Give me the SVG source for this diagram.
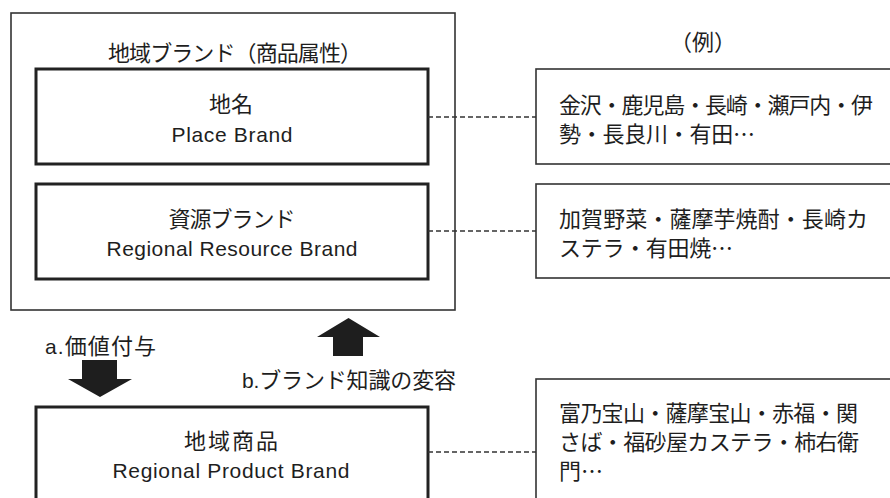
<svg xmlns="http://www.w3.org/2000/svg" width="890" height="498" viewBox="0 0 890 498">
<style>
text{font-family:"Liberation Sans","Noto Sans CJK JP",sans-serif;font-size:21px;fill:#1e1e1e}
.j{font-family:"Noto Sans CJK JP","Liberation Sans",sans-serif;font-size:22px}
.outer{fill:none;stroke:#333;stroke-width:1.6}
.inner{fill:#fff;stroke:#222;stroke-width:3}
.ex{fill:#fff;stroke:#333;stroke-width:1.6}
.dash{fill:none;stroke:#333;stroke-width:1.3;stroke-dasharray:5 3}
.arrow{fill:#1e1e1e}
.c{text-anchor:middle}
</style>
<rect width="890" height="498" fill="#fff"/>
<g id="region-brand">
<rect class="outer" x="11" y="13" width="444" height="297"/>
<text class="j" x="108" y="61" textLength="254">地域ブランド（商品属性）</text>
</g>
<g id="place-brand">
<rect class="inner" x="36" y="69" width="392" height="95"/>
<text class="j c" x="231" y="112">地名</text>
<text class="c" x="232" y="142" textLength="121">Place Brand</text>
</g>
<g id="resource-brand">
<rect class="inner" x="36" y="184" width="392" height="95"/>
<text class="j c" x="232" y="227" textLength="127">資源ブランド</text>
<text class="c" x="232" y="256" textLength="251">Regional Resource Brand</text>
</g>
<g id="product-brand">
<rect class="inner" x="36" y="407" width="392" height="110"/>
<text class="j c" x="231" y="449" textLength="94">地域商品</text>
<text class="c" x="231" y="478" textLength="237">Regional Product Brand</text>
</g>
<g id="example-title">
<text class="j c" x="703" y="50">（例）</text>
</g>
<g id="example-place">
<rect class="ex" x="536" y="69" width="370" height="95"/>
<text class="j" x="559" y="113" textLength="314">金沢・鹿児島・長崎・瀬戸内・伊</text>
<text class="j" x="559" y="142" textLength="196">勢・長良川・有田…</text>
</g>
<g id="example-resource">
<rect class="ex" x="536" y="184" width="370" height="94"/>
<text class="j" x="559" y="227" textLength="309">加賀野菜・薩摩芋焼酎・長崎カ</text>
<text class="j" x="559" y="256" textLength="174">ステラ・有田焼…</text>
</g>
<g id="example-product">
<rect class="ex" x="536" y="379" width="370" height="140"/>
<text class="j" x="559" y="421" textLength="299">富乃宝山・薩摩宝山・赤福・関</text>
<text class="j" x="559" y="450" textLength="300">さば・福砂屋カステラ・柿右衛</text>
<text class="j" x="559" y="479">門…</text>
</g>
<g id="label-a">
<text x="45" y="354" textLength="111"><tspan>a.</tspan><tspan class="j">価値付与</tspan></text>
</g>
<g id="label-b">
<text x="242" y="388" textLength="214"><tspan>b.</tspan><tspan class="j">ブランド知識の変容</tspan></text>
</g>
<g id="connectors">
<line class="dash" x1="428" y1="117" x2="536" y2="117"/>
<line class="dash" x1="428" y1="231" x2="536" y2="231"/>
<line class="dash" x1="428" y1="452" x2="536" y2="452"/>
<polygon class="arrow" points="348.5,318 380,337 363,337 363,356 333,356 333,337 317,337"/>
<polygon class="arrow" points="82,360 117,360 117,379 132,379 100,397 68,379 82,379"/>
</g>
</svg>
